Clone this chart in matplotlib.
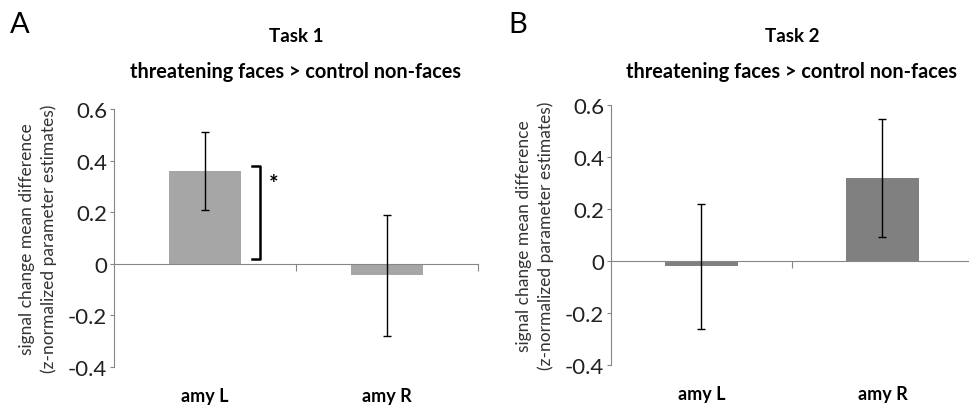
import matplotlib.pyplot as plt
import numpy as np

plt.rcParams['font.family'] = ['Lato', 'DejaVu Sans']

regions = ['amy L', 'amy R']

task1_mean = [0.36, -0.045]
task1_err = [0.152, 0.235]
task2_mean = [-0.02, 0.32]
task2_err = [0.24, 0.227]

fig = plt.figure(figsize=(9.7, 4.06), dpi=100)


def panel(rect, means, errs, color, letter, title, letter_pos):
    ax = fig.add_axes(rect)
    x = np.arange(len(regions))
    ax.bar(x, means, width=0.4, color=color, zorder=2)
    ax.errorbar(x, means, yerr=errs, fmt='none', ecolor='black',
                elinewidth=1, capsize=3, capthick=1, zorder=3)
    ax.set_xlim(-0.5, 1.5)
    ax.set_ylim(-0.4, 0.6)
    ax.set_yticks([-0.4, -0.2, 0, 0.2, 0.4, 0.6])
    ax.set_yticklabels(['-0.4', '-0.2', '0', '0.2', '0.4', '0.6'])
    ax.spines['top'].set_visible(False)
    ax.spines['right'].set_visible(False)
    ax.spines['bottom'].set_position(('data', 0))
    ax.spines['left'].set_color('#868686')
    ax.spines['bottom'].set_color('#868686')
    ax.set_xticks([0.5, 1.5])
    ax.set_xticklabels([])
    ax.tick_params(axis='x', direction='out', length=5, color='#868686')
    ax.tick_params(axis='y', direction='out', length=3, color='#868686',
                   labelsize=16, pad=2, labelcolor='#222222')
    ax.set_ylabel('signal change mean difference\n(z-normalized parameter estimates)',
                  fontsize=12.5, labelpad=8, color='#333333', linespacing=1.4)
    for xi, name in zip(x, regions):
        ax.text(xi, -0.51, name, ha='center', va='center', fontsize=13,
                fontweight='bold', transform=ax.transData, clip_on=False)
    cx = rect[0] + rect[2] * 0.5
    fig.text(cx, 1 - 37 / 406, title, ha='center', va='center',
             fontsize=13.5, fontweight='bold')
    fig.text(cx, 1 - 72 / 406, 'threatening faces > control non-faces',
             ha='center', va='center', fontsize=14.3, fontweight='bold')
    fig.text(letter_pos, 1 - 25 / 406, letter, ha='center', va='center',
             fontsize=21)
    return ax


axA = panel([114 / 970, 1 - 368 / 406, 364 / 970, 258 / 406],
            task1_mean, task1_err, '#a6a6a6', 'A', 'Task 1', 20 / 970)
axB = panel([611 / 970, 1 - 366 / 406, 362 / 970, 260 / 406],
            task2_mean, task2_err, '#808080', 'B', 'Task 2', 518 / 970)

# significance bracket
axA.plot([0.26, 0.3, 0.3, 0.26], [0.38, 0.38, 0.02, 0.02],
         color='black', lw=1.8, clip_on=False, zorder=4)
axA.text(0.375, 0.31, '*', ha='center', va='center', fontsize=16,
         fontweight='bold')

fig.savefig('out.png', dpi=100)
